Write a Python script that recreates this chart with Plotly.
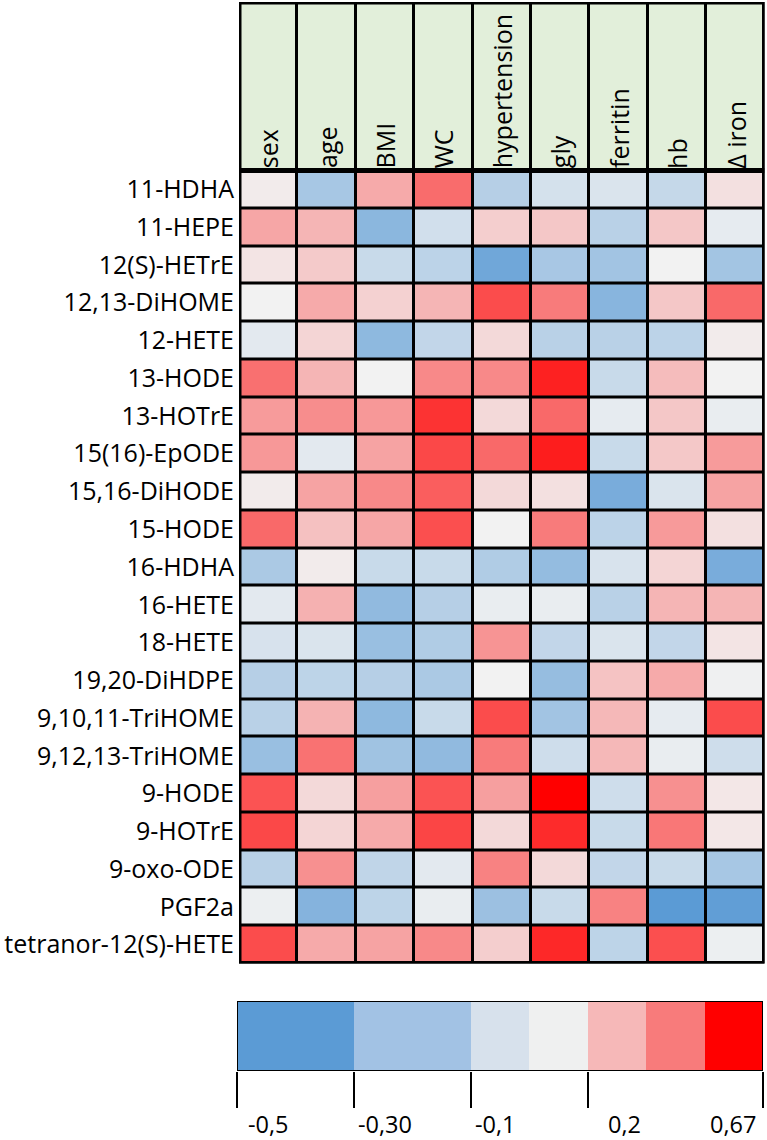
import plotly.graph_objects as go

# ---------------- data ----------------
rows = ["11-HDHA", "11-HEPE", "12(S)-HETrE", "12,13-DiHOME", "12-HETE", "13-HODE",
        "13-HOTrE", "15(16)-EpODE", "15,16-DiHODE", "15-HODE", "16-HDHA", "16-HETE",
        "18-HETE", "19,20-DiHDPE", "9,10,11-TriHOME", "9,12,13-TriHOME", "9-HODE",
        "9-HOTrE", "9-oxo-ODE", "PGF2a", "tetranor-12(S)-HETE"]
cols = ["sex", "age", "BMI", "WC", "hypertension", "gly", "ferritin", "hb", "Δ iron"]

sex = [0.02, 0.21, 0.04, 0.0, -0.05, 0.36, 0.24, 0.25, 0.02, 0.38, -0.235, -0.05, -0.09, -0.2, -0.19, -0.295, 0.44, 0.47, -0.19, -0.02, 0.46]
age = [-0.25, 0.17, 0.11, 0.2, 0.08, 0.17, 0.28, -0.05, 0.22, 0.135, 0.02, 0.18, -0.08, -0.175, 0.175, 0.355, 0.07, 0.08, 0.27, -0.36, 0.2]
bmi = [0.2, -0.34, -0.14, 0.09, -0.33, 0.0, 0.25, 0.22, 0.29, 0.21, -0.14, -0.32, -0.295, -0.2, -0.33, -0.27, 0.23, 0.2, -0.165, -0.175, 0.22]
wc = [0.37, -0.11, -0.18, 0.17, -0.16, 0.29, 0.53, 0.47, 0.41, 0.45, -0.14, -0.2, -0.22, -0.235, -0.14, -0.32, 0.44, 0.48, -0.05, -0.03, 0.29]
hypertension = [-0.2, 0.1, -0.43, 0.46, 0.07, 0.29, 0.07, 0.38, 0.07, 0.0, -0.22, -0.03, 0.26, 0.0, 0.46, 0.33, 0.23, 0.07, 0.31, -0.285, 0.10]
gly = [-0.1, 0.12, -0.245, 0.33, -0.19, 0.58, 0.38, 0.59, 0.05, 0.33, -0.31, -0.03, -0.16, -0.305, -0.265, -0.12, 0.67, 0.55, 0.07, -0.14, 0.56]
ferritin = [-0.08, -0.19, -0.265, -0.35, -0.19, -0.14, -0.04, -0.14, -0.4, -0.18, -0.085, -0.19, -0.08, 0.13, 0.16, 0.16, -0.12, -0.14, -0.16, 0.31, -0.175]
hb = [-0.15, 0.12, 0.0, 0.12, -0.18, 0.15, 0.12, 0.115, -0.08, 0.245, 0.08, 0.17, -0.16, 0.2, -0.04, -0.03, 0.27, 0.34, -0.14, -0.5, 0.45]
d_iron = [0.05, -0.04, -0.26, 0.38, 0.02, 0.0, -0.03, 0.24, 0.22, 0.05, -0.40, 0.17, 0.04, -0.01, 0.46, -0.12, 0.03, 0.03, -0.25, -0.48, -0.02]

z_min, z_mid, z_max = -0.5, 0.0, 0.67

legend_colors = ["#5B9BD5", "#A2C2E4", "#D7E1EC", "#EFF0F0", "#F6B8B8", "#F87B7B", "#FF0000"]
legend_edges = [0, 2, 4, 5, 6, 7, 8, 9]
legend_tick_pos = [0, 2, 4, 6, 9]
legend_labels = ["-0,5", "-0,30", "-0,1", "0,2", "0,67"]

# ---------------- layout geometry ----------------
W, H = 767, 1140
FONT = "Open Sans"
x0px, x1px = 239, 764.5
ytop, yhead, ybot = 2, 170.5, 963.5
row_h = (ybot - yhead) / len(rows)
head_units = (yhead - ytop) / row_h
label_pos = [0.54, 2.53, 4.43, 6.63, 8.49]

series = [sex, age, bmi, wc, hypertension, gly, ferritin, hb, d_iron]
z = [[series[j][i] for j in range(len(cols))] for i in range(len(rows))]

mid = (z_mid - z_min) / (z_max - z_min)
cscale = [[0, "#5B9BD5"], [mid, "#F2F2F2"], [1, "#FF0000"]]

fig = go.Figure()
fig.add_trace(go.Heatmap(
    z=z, x=list(range(len(cols) + 1)), y=list(range(len(rows) + 1)),
    zmin=z_min, zmax=z_max, colorscale=cscale, showscale=False,
    xgap=3, ygap=3, xaxis="x", yaxis="y", hoverinfo="skip"))
fig.add_trace(go.Heatmap(
    z=[[1] * len(cols)], x=list(range(len(cols) + 1)), y=[-head_units, 0],
    zmin=0, zmax=1, colorscale=[[0, "#E2EFDA"], [1, "#E2EFDA"]], showscale=False,
    xgap=3, ygap=0, xaxis="x", yaxis="y", hoverinfo="skip"))
n_leg = len(legend_colors)
fig.add_trace(go.Heatmap(
    z=[list(range(n_leg))], x=legend_edges, y=[0, 1],
    zmin=0, zmax=n_leg - 1,
    colorscale=[[i / (n_leg - 1), c] for i, c in enumerate(legend_colors)],
    showscale=False, xaxis="x2", yaxis="y2", hoverinfo="skip"))

annotations = []
for i, c in enumerate(cols):
    annotations.append(dict(
        x=i + 0.5, y=0, xref="x", yref="y", text=c, textangle=-90,
        xanchor="center", yanchor="bottom", yshift=0, xshift=0, showarrow=False,
        font=dict(family=FONT, size=25, color="#000")))
for p, t in zip(label_pos, legend_labels):
    annotations.append(dict(
        x=p, y=1 - 1124 / H, xref="x2", yref="paper", text=t,
        xanchor="center", yanchor="middle", showarrow=False,
        font=dict(family=FONT, size=23.5, color="#000")))

shapes = [
    dict(type="rect", xref="x", yref="y", x0=0, x1=len(cols), y0=-head_units, y1=len(rows),
         line=dict(color="black", width=5)),
    dict(type="line", xref="x", yref="y", x0=0, x1=len(cols), y0=0, y1=0,
         line=dict(color="black", width=5)),
    dict(type="rect", xref="x2", yref="y2", x0=0, x1=legend_edges[-1], y0=0, y1=1,
         line=dict(color="black", width=2)),
]

fig.update_layout(
    width=W, height=H, autosize=False,
    margin=dict(l=0, r=0, t=0, b=0),
    paper_bgcolor="white", plot_bgcolor="black",
    showlegend=False,
    xaxis=dict(domain=[x0px / W, x1px / W], range=[0, len(cols)], visible=False,
               fixedrange=True),
    yaxis=dict(domain=[1 - ybot / H, 1 - ytop / H], range=[len(rows), -head_units],
               tickvals=[i + 0.5 for i in range(len(rows))], ticktext=rows,
               ticks="", showgrid=False, zeroline=False, showline=False,
               ticklabelstandoff=4,
               tickfont=dict(family=FONT, size=25, color="#000"), fixedrange=True),
    xaxis2=dict(domain=[237 / W, 763 / W], range=[0, legend_edges[-1]], anchor="y2",
                tickvals=legend_tick_pos, ticks="outside", ticklen=36, tickwidth=2,
                tickcolor="black", showticklabels=False, showgrid=False,
                zeroline=False, showline=False, fixedrange=True),
    yaxis2=dict(domain=[1 - 1071 / H, 1 - 1001 / H], range=[0, 1], anchor="x2",
                visible=False, fixedrange=True),
    annotations=annotations, shapes=shapes,
)

fig.write_html("out.html", config={"displayModeBar": False},
               post_script="document.body.style.margin='0';document.body.style.overflow='hidden';")
